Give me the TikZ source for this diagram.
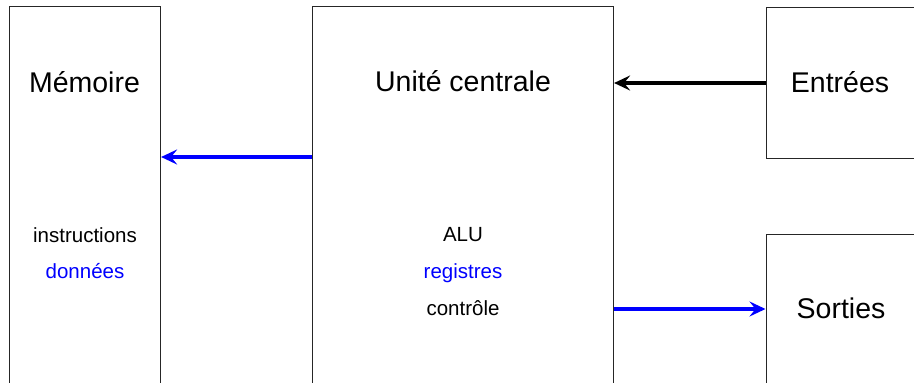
\documentclass[tikz,border=0pt]{standalone}
\usepackage{fontspec}
\setmainfont{Liberation Sans}
\usetikzlibrary{arrows.meta}
\definecolor{pureblue}{RGB}{0,0,255}
\tikzset{
  x=1pt, y=-1pt,
  unit/.style={draw=black!85, line width=1.2pt, fill=white, rectangle, inner sep=0pt},
  title/.style={anchor=base, inner sep=0pt, font=\fontsize{28.5}{34}\selectfont},
  item/.style={anchor=base, inner sep=0pt, font=\fontsize{20.5}{24}\selectfont},
  flow/.style={line width=3.6pt, -{Stealth[length=16pt,width=15pt,inset=6pt]}},
}
\begin{document}
\begin{tikzpicture}
  \useasboundingbox (0,0) rectangle (914,383);
  \clip (0,0) rectangle (914,383);
  \fill[white] (0,0) rectangle (914,383);

  % the four units (they run past the page edges)
  \node[unit, minimum width=151pt, minimum height=420pt] (mem) at (85,216.5) {};
  \node[unit, minimum width=301pt, minimum height=420pt] (uc) at (463,216.5) {};
  \node[unit, minimum width=200pt, minimum height=151pt, anchor=north west] (ent) at (765.5,6.5) {};
  \node[unit, minimum width=200pt, minimum height=200pt, anchor=north west] (sor) at (765.5,233.5) {};

  % titles
  \node[title] (memT) at (84.5,92) {Mémoire};
  \node[title] (ucT) at (463,91) {Unité centrale};
  \node[title] (entT) at (840,92) {Entrées};
  \node[title] (sorT) at (841,318) {Sorties};

  % contents
  \node[item] (instr) at (85,242) {instructions};
  \node[item, text=pureblue] (donn) at (85,278) {données};
  \node[item] (alu) at (463,241) {ALU};
  \node[item, text=pureblue] (reg) at (463,278) {registres};
  \node[item] (ctrl) at (463,315) {contrôle};

  % arrow heights
  \coordinate (yin) at (0,83);
  \coordinate (ymem) at (0,157);
  \coordinate (yout) at (0,309);

  % connections
  \draw[flow, black] (ent.west |- yin) -- (uc.east |- yin);
  \draw[flow, pureblue] (uc.west |- ymem) -- (mem.east |- ymem);
  \draw[flow, pureblue] (uc.east |- yout) -- (sor.west |- yout);
\end{tikzpicture}
\end{document}
